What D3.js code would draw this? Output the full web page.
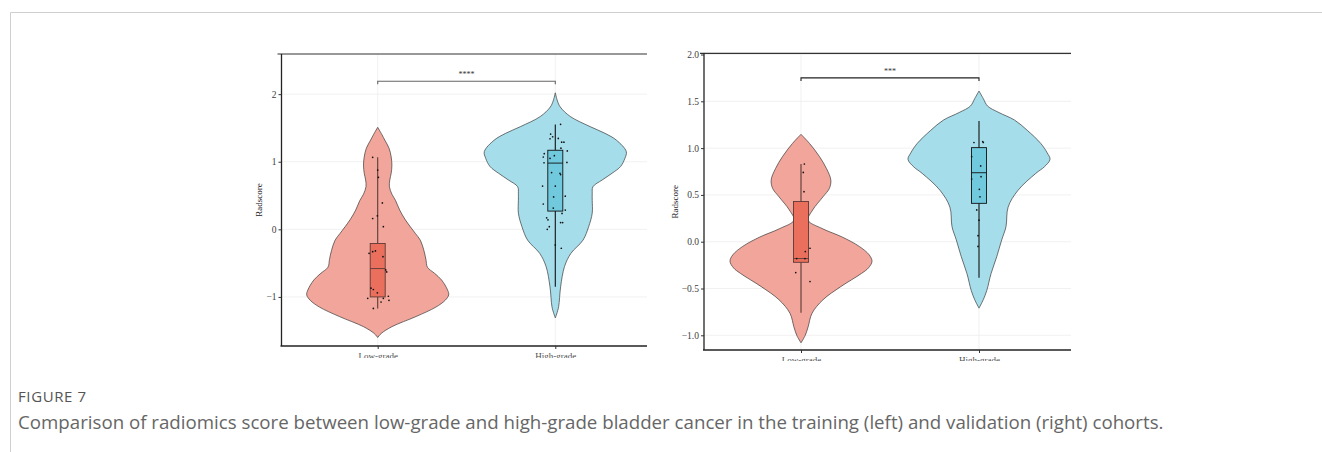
<!DOCTYPE html>
<html>
<head>
<meta charset="utf-8">
<script src="https://cdn.jsdelivr.net/npm/d3@7"></script>
<style>
body { margin: 0; background: #fff; }
</style>
</head>
<body>
<svg id="chart" width="1322" height="452"></svg>
<script>
const groups = ["Low-grade", "High-grade"];

// training cohort (left)
const trainTicks = [-1, 0, 1, 2];
// violin outline: [radscore, relative half width]
const trainLowViolin = [[1.51,0],[1.40,0.06],[1.32,0.10],[1.20,0.16],[1.07,0.19],[0.95,0.20],[0.83,0.19],[0.73,0.17],[0.63,0.165],[0.52,0.20],[0.43,0.25],[0.285,0.31],[0.14,0.39],[-0.06,0.53],[-0.16,0.60],[-0.31,0.65],[-0.45,0.68],[-0.56,0.70],[-0.65,0.80],[-0.75,0.90],[-0.90,0.985],[-0.97,1.0],[-1.05,0.95],[-1.15,0.82],[-1.29,0.54],[-1.44,0.20],[-1.54,0.05],[-1.60,0]];
const trainHighViolin = [[2.02,0],[1.90,0.03],[1.81,0.07],[1.67,0.21],[1.52,0.49],[1.42,0.70],[1.32,0.86],[1.15,1.0],[1.05,0.98],[0.93,0.92],[0.83,0.80],[0.73,0.66],[0.63,0.53],[0.53,0.52],[0.43,0.52],[0.24,0.52],[0.04,0.47],[-0.16,0.39],[-0.355,0.22],[-0.55,0.13],[-0.85,0.075],[-1.145,0.047],[-1.25,0.02],[-1.31,0]];
// [min, q1, median, q3, max]
const trainLowBox = [-1.17, -1.00, -0.58, -0.21, 1.065];
const trainHighBox = [-0.85, 0.27, 0.98, 1.17, 1.55];
// [jitter, radscore]
const trainLowPoints = [[-0.42,1.065],[0,0.877],[0.06,0.77],[0.39,0.39],[-0.42,0.16],[-0.03,0.20],[0.47,0.04],[-0.72,-0.355],[-0.42,-0.33],[-0.19,-0.32],[0.44,-0.405],[0.67,-0.60],[0.75,-0.63],[-0.56,-0.87],[-0.36,-0.89],[-0.03,-0.94],[0.47,-1.02],[0.89,-0.99],[-0.83,-1.02],[0.94,-1.05],[0.28,-1.075],[-0.36,-1.17]];
const trainHighPoints = [[0.44,1.553],[-0.39,1.41],[-0.22,1.37],[-0.44,1.34],[0.25,1.345],[0.53,1.29],[0.72,1.29],[0.47,1.20],[1.0,1.16],[-0.92,1.12],[-1.0,1.07],[-0.08,1.09],[-0.44,1.05],[-0.94,0.985],[0.97,0.99],[-0.31,0.84],[0.39,0.83],[0.44,0.81],[-1.06,0.64],[0,0.64],[0.83,0.49],[-0.14,0.48],[-1.0,0.375],[-0.17,0.315],[0.83,0.285],[0.56,0.235],[-0.72,0.17],[-0.61,0.14],[0.44,0.10],[0.61,0.10],[-0.5,0.04],[-0.67,0.0],[0,-0.23],[0.5,-0.28]];
const trainSig = [2.19, "****"];

// validation cohort (right)
const validTicks = [-1, -0.5, 0, 0.5, 1, 1.5, 2];
const validLowViolin = [[1.147,0],[1.05,0.12],[0.91,0.26],[0.78,0.36],[0.66,0.42],[0.57,0.40],[0.48,0.31],[0.34,0.165],[0.23,0.10],[0.14,0.30],[0.05,0.58],[-0.05,0.82],[-0.14,0.96],[-0.21,1.0],[-0.28,0.95],[-0.34,0.85],[-0.48,0.56],[-0.62,0.31],[-0.765,0.155],[-0.91,0.10],[-1.0,0.06],[-1.08,0]];
const validHighViolin = [[1.61,0],[1.53,0.06],[1.45,0.12],[1.38,0.28],[1.30,0.50],[1.19,0.68],[1.05,0.87],[0.95,0.96],[0.88,1.0],[0.80,0.92],[0.73,0.80],[0.55,0.55],[0.37,0.41],[0.16,0.38],[0.02,0.32],[-0.16,0.25],[-0.34,0.17],[-0.52,0.11],[-0.62,0.06],[-0.71,0]];
const validLowBox = [-0.76, -0.22, -0.18, 0.43, 0.83];
const validHighBox = [-0.385, 0.41, 0.737, 1.005, 1.29];
const validLowPoints = [[0.28,0.83],[0.19,0.74],[0.25,0.535],[0.75,-0.07],[0.36,-0.105],[-0.36,-0.18],[0.33,-0.18],[-0.44,-0.33],[0.75,-0.425]];
const validHighPoints = [[-0.42,1.06],[0.31,1.07],[0.36,1.06],[-0.61,0.91],[0.14,0.81],[0.17,0.695],[-0.61,0.67],[0.03,0.56],[0.08,0.48],[-0.19,0.34],[0,0.23],[-0.08,0.065],[-0.08,-0.05]];
const validSig = [1.75, "***"];

const violinFill = ["#F2A59A", "#A6DDEA"];
const boxFill = ["#EB6F5D", "#71C9DD"];
const serif = "'Liberation Serif', 'Times New Roman', serif";

const svg = d3.select("#chart");

// page frame
svg.append("path")
  .attr("d", "M10.5,452V12.5H1322")
  .attr("fill", "none")
  .attr("stroke", "#cfcfcf")
  .attr("stroke-width", 1);

function drawPanel(p) {
  let g = svg.append("g");
  let x = d3.scalePoint().domain(groups).range([p.cx[0], p.cx[1]]);
  let y = d3.scaleLinear().domain(p.domain).range([p.bottom, p.top]);
  let w = d3.scaleLinear().domain([0, 1]).range([0, 71]);
  let jit = d3.scaleLinear().domain([-1, 1]).range([-12, 12]);
  let bw = 7.5;

  g.selectAll(".hgrid").data(p.ticks).join("line")
    .attr("x1", p.left).attr("x2", p.right)
    .attr("y1", d => y(d)).attr("y2", d => y(d))
    .attr("stroke", "#ebebeb").attr("stroke-width", 0.7);
  g.selectAll(".vgrid").data(groups).join("line")
    .attr("x1", d => x(d)).attr("x2", d => x(d))
    .attr("y1", p.top).attr("y2", p.bottom)
    .attr("stroke", "#ebebeb").attr("stroke-width", 0.7);

  let series = groups.map((gname, i) => ({
    name: gname, i: i, violin: p.violins[i], box: p.boxes[i], points: p.points[i]
  }));

  series.forEach(s => {
    let cx = x(s.name);
    let area = d3.area()
      .curve(d3.curveCatmullRom)
      .y(d => y(d[0]))
      .x0(d => cx - w(d[1]))
      .x1(d => cx + w(d[1]));
    g.append("path")
      .attr("d", area(s.violin))
      .attr("fill", violinFill[s.i])
      .attr("stroke", "#3a3a3a")
      .attr("stroke-width", 0.7);

    let [mn, q1, md, q3, mx] = s.box;
    let wc = s.i == 0 ? "#5b3a35" : "#111";
    g.append("line")
      .attr("x1", cx).attr("x2", cx).attr("y1", y(mx)).attr("y2", y(q3))
      .attr("stroke", wc).attr("stroke-width", 1.1);
    g.append("line")
      .attr("x1", cx).attr("x2", cx).attr("y1", y(q1)).attr("y2", y(mn))
      .attr("stroke", wc).attr("stroke-width", 1.1);
    g.append("rect")
      .attr("x", cx - bw).attr("width", bw * 2)
      .attr("y", y(q3)).attr("height", y(q1) - y(q3))
      .attr("fill", boxFill[s.i])
      .attr("stroke", wc).attr("stroke-width", 0.9);
    g.append("line")
      .attr("x1", cx - bw).attr("x2", cx + bw).attr("y1", y(md)).attr("y2", y(md))
      .attr("stroke", wc).attr("stroke-width", 0.9);

    g.selectAll(null).data(s.points).join("circle")
      .attr("cx", d => cx + jit(d[0]))
      .attr("cy", d => y(d[1]))
      .attr("r", 0.85)
      .attr("fill", "#111");
  });

  // frame lines
  g.append("line")
    .attr("x1", p.left - 4).attr("x2", p.right).attr("y1", p.top).attr("y2", p.top)
    .attr("stroke", "#333").attr("stroke-width", 1.2);
  g.append("line")
    .attr("x1", p.left - 1).attr("x2", p.right).attr("y1", p.bottom).attr("y2", p.bottom)
    .attr("stroke", "#222").attr("stroke-width", 1.3);
  g.append("line")
    .attr("x1", p.left).attr("x2", p.left).attr("y1", p.top).attr("y2", p.bottom)
    .attr("stroke", "#222").attr("stroke-width", 1.3);

  let ya = g.append("g")
    .attr("transform", `translate(${p.left},0)`)
    .call(d3.axisLeft(y).tickValues(p.ticks).tickFormat(p.fmt).tickSize(3).tickPadding(2));
  ya.select(".domain").remove();
  ya.selectAll("line").attr("stroke", "#333");
  ya.selectAll("text").attr("font-family", serif).attr("font-size", 9.5).attr("fill", "#3d3d3d");

  let clipId = "clip" + p.id;
  svg.append("clipPath").attr("id", clipId)
    .append("rect").attr("x", p.left - 40).attr("y", 0)
    .attr("width", p.right - p.left + 80).attr("height", p.clipY);
  let xa = g.append("g")
    .attr("clip-path", `url(#${clipId})`)
    .append("g")
    .attr("transform", `translate(0,${p.bottom})`)
    .call(d3.axisBottom(x).tickSize(3).tickPadding(4));
  xa.select(".domain").remove();
  xa.selectAll("line").attr("stroke", "#333");
  xa.selectAll("text").attr("font-family", serif).attr("font-size", 9).attr("fill", "#4d4d4d");

  g.append("text")
    .attr("transform", `translate(${p.labelX},${(p.top + p.bottom) / 2}) rotate(-90)`)
    .attr("text-anchor", "middle")
    .attr("font-family", serif).attr("font-size", 9).attr("fill", "#222")
    .text("Radscore");

  // significance bracket
  let by = y(p.sig[0]);
  g.append("path")
    .attr("d", `M${x(groups[0])},${by + 3}V${by}H${x(groups[1])}V${by + 3}`)
    .attr("fill", "none")
    .attr("stroke", p.sigColor).attr("stroke-width", 1.1);
  g.append("text")
    .attr("x", (x(groups[0]) + x(groups[1])) / 2)
    .attr("y", by - 4)
    .attr("text-anchor", "middle")
    .attr("font-family", serif).attr("font-size", 8).attr("fill", "#333")
    .text(p.sig[1]);
}

drawPanel({
  id: "train", left: 281.5, right: 647, top: 54, bottom: 346,
  cx: [377.7, 555.3], domain: [-1.726, 2.594], clipY: 358, labelX: 262,
  ticks: trainTicks, fmt: d3.format("d"),
  violins: [trainLowViolin, trainHighViolin], boxes: [trainLowBox, trainHighBox],
  points: [trainLowPoints, trainHighPoints], sig: trainSig, sigColor: "#666"
});

drawPanel({
  id: "valid", left: 704, right: 1071, top: 53.3, bottom: 350,
  cx: [801, 979], domain: [-1.157, 2.013], clipY: 361, labelX: 678,
  ticks: validTicks, fmt: d3.format(".1f"),
  violins: [validLowViolin, validHighViolin], boxes: [validLowBox, validHighBox],
  points: [validLowPoints, validHighPoints], sig: validSig, sigColor: "#222"
});

// caption
svg.append("text")
  .attr("x", 18).attr("y", 402)
  .attr("font-family", "'Open Sans', sans-serif").attr("font-size", 15)
  .attr("letter-spacing", 0.6)
  .attr("fill", "#555")
  .text("FIGURE 7");
svg.append("text")
  .attr("x", 18).attr("y", 429)
  .attr("font-family", "'Open Sans', sans-serif").attr("font-size", 18.7)
  .attr("fill", "#666")
  .text("Comparison of radiomics score between low-grade and high-grade bladder cancer in the training (left) and validation (right) cohorts.");
</script>
</body>
</html>
